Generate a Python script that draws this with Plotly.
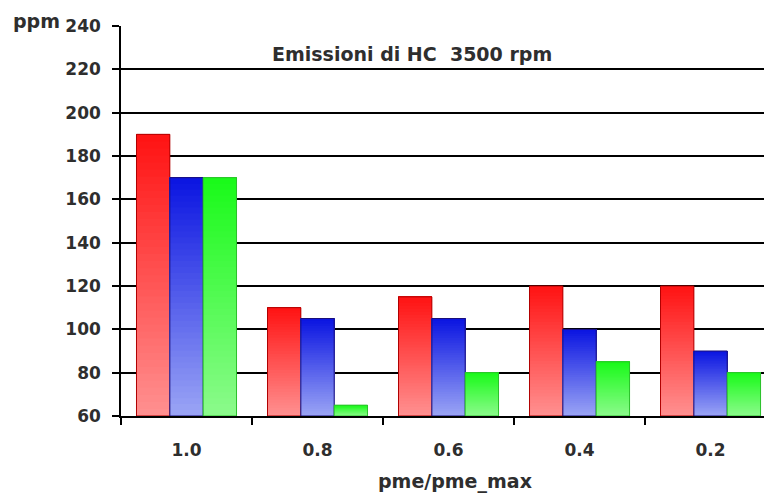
import plotly.graph_objects as go

categories = ["1.0", "0.8", "0.6", "0.4", "0.2"]
series_names = ["A", "B", "C"]
red_vals = [190, 110, 115, 120, 120]
blue_vals = [170, 105, 105, 100, 90]
green_vals = [170, 65, 80, 85, 80]
y_ticks = [60, 80, 100, 120, 140, 160, 180, 200, 220, 240]

BASE = 60
N = 40
FONT = "DejaVu Sans"
TXT = "#2e2e2e"

series = [
    (red_vals, (255, 145, 145), (255, 18, 18), "#b00000"),
    (blue_vals, (155, 165, 245), (10, 20, 225), "#1a0f7a"),
    (green_vals, (140, 250, 140), (25, 250, 25), "#2cbf2c"),
]

bar_w = 0.2545
fig = go.Figure()

for j, (vals, cb, ct, edge) in enumerate(series):
    off = -1.5 * bar_w + j * bar_w
    for k in range(N):
        t = (k + 0.5) / N
        col = "rgb(%d,%d,%d)" % tuple(round(cb[i] + (ct[i] - cb[i]) * t) for i in range(3))
        bases = [BASE + k * (v - BASE) / N for v in vals]
        fig.add_trace(go.Bar(
            x=categories,
            y=[v - b for v, b in zip(vals, bases)],
            base=bases,
            width=bar_w, offset=off,
            marker=dict(color=col, line=dict(width=0)),
            showlegend=False, hoverinfo="skip",
        ))
    fig.add_trace(go.Bar(
        x=categories,
        y=[v - BASE for v in vals],
        base=[BASE] * len(vals),
        width=bar_w, offset=off,
        marker=dict(color="rgba(0,0,0,0)", line=dict(width=1, color=edge)),
        showlegend=False, name=series_names[j],
    ))

fig.update_layout(
    width=764, height=493,
    margin=dict(l=121, r=0, t=26, b=77),
    barmode="overlay",
    plot_bgcolor="white", paper_bgcolor="white",
    showlegend=False,
    font=dict(family=FONT, color=TXT),
)
fig.update_xaxes(
    type="category", range=[-0.5, 4.408],
    tickson="boundaries", ticks="outside", ticklen=7, tickwidth=1.5, tickcolor="black",
    showline=True, linecolor="black", linewidth=1.5,
    showgrid=False,
    tickfont=dict(family=FONT, size=17, color=TXT, weight="bold"),
    ticklabelstandoff=18,
)
fig.update_yaxes(
    range=[60, 240], tickvals=y_ticks,
    ticks="outside", ticklen=7, tickwidth=1.5, tickcolor="black",
    showline=True, linecolor="black", linewidth=1.5,
    showgrid=True, gridcolor="black", gridwidth=1.5,
    zeroline=False,
    tickfont=dict(family=FONT, size=17, color=TXT, weight="bold"),
    ticklabelstandoff=8,
)

fig.add_annotation(text="Emissioni di HC&nbsp;&nbsp;3500 rpm", xref="paper", yref="paper",
                   x=(412 - 121) / 643, y=(416 - 54) / 390, xanchor="center", yanchor="middle",
                   showarrow=False,
                   font=dict(family=FONT, size=19, color=TXT, weight="bold"))
fig.add_annotation(text="pme/pme_max", xref="paper", yref="paper",
                   x=(455 - 121) / 643, y=(416 - 481) / 390, xanchor="center", yanchor="middle",
                   showarrow=False,
                   font=dict(family=FONT, size=19, color=TXT, weight="bold"))
fig.add_annotation(text="ppm", xref="paper", yref="paper",
                   x=(36 - 121) / 643, y=(416 - 21) / 390, xanchor="center", yanchor="middle",
                   showarrow=False,
                   font=dict(family=FONT, size=19, color=TXT, weight="bold"))

fig.write_html("out.html")
